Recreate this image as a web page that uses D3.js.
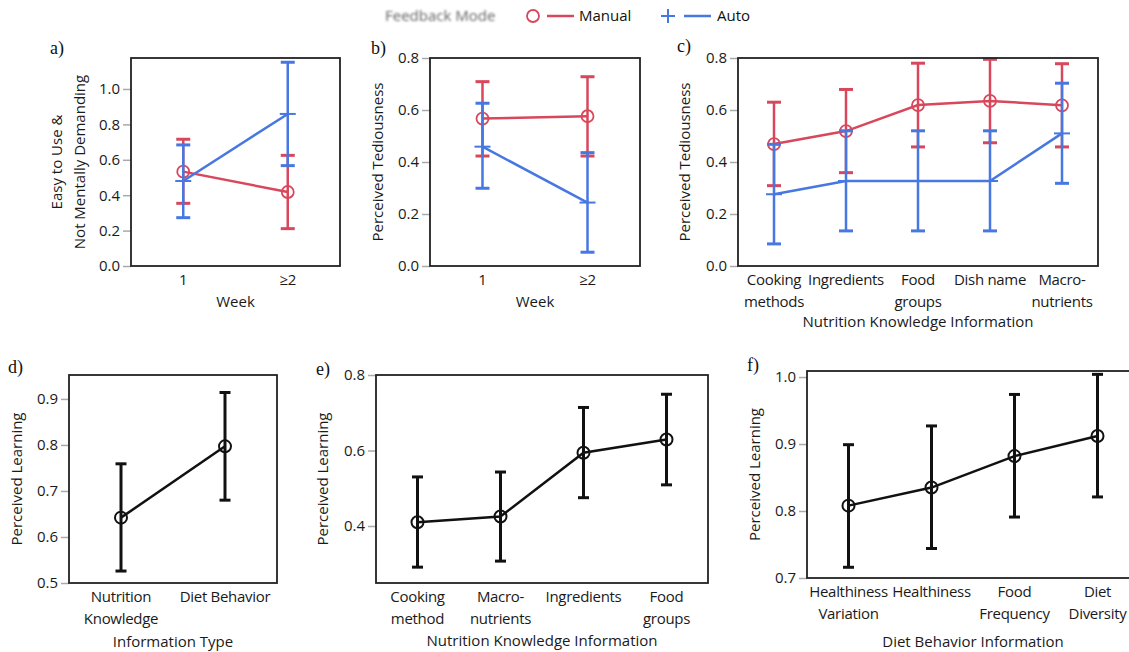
<!DOCTYPE html>
<html>
<head>
<meta charset="utf-8">
<script src="https://cdn.jsdelivr.net/npm/d3@7"></script>
<style>
  body { margin: 0; background: #fff; }
  svg text { font-family: "Open Sans", sans-serif; }
</style>
</head>
<body>
<div class="chart"></div>
<script>
// ---- data ----
const weeks = ['1', '≥2']

// a) Easy to Use & Not Mentally Demanding
const easeManualMean = [0.533, 0.418]
const easeManualLow  = [0.354, 0.211]
const easeManualHigh = [0.716, 0.625]
const easeAutoMean   = [0.480, 0.859]
const easeAutoLow    = [0.273, 0.567]
const easeAutoHigh   = [0.684, 1.151]

// b) Perceived Tediousness by week
const tedManualMean = [0.567, 0.576]
const tedManualLow  = [0.423, 0.423]
const tedManualHigh = [0.709, 0.728]
const tedAutoMean   = [0.459, 0.244]
const tedAutoLow    = [0.299, 0.053]
const tedAutoHigh   = [0.626, 0.436]

// c) Perceived Tediousness by nutrition knowledge information
const nkCatsC = ['Cooking\nmethods', 'Ingredients', 'Food\ngroups', 'Dish name', 'Macro-\nnutrients']
const nkManualMean = [0.469, 0.519, 0.619, 0.635, 0.618]
const nkManualLow  = [0.309, 0.359, 0.458, 0.474, 0.458]
const nkManualHigh = [0.630, 0.679, 0.780, 0.795, 0.778]
const nkAutoMean   = [0.276, 0.327, 0.327, 0.327, 0.510]
const nkAutoLow    = [0.085, 0.135, 0.135, 0.135, 0.318]
const nkAutoHigh   = [0.468, 0.520, 0.520, 0.520, 0.703]

// d) Perceived Learning by information type
const infoTypes = ['Nutrition\nKnowledge', 'Diet Behavior']
const typeMean = [0.642, 0.797]
const typeLow  = [0.526, 0.680]
const typeHigh = [0.759, 0.914]

// e) Perceived Learning by nutrition knowledge information
const nkCatsE = ['Cooking\nmethod', 'Macro-\nnutrients', 'Ingredients', 'Food\ngroups']
const nkLearnMean = [0.410, 0.425, 0.594, 0.629]
const nkLearnLow  = [0.291, 0.307, 0.475, 0.509]
const nkLearnHigh = [0.530, 0.543, 0.714, 0.749]

// f) Perceived Learning by diet behavior information
const dbCats = ['Healthiness\nVariation', 'Healthiness', 'Food\nFrequency', 'Diet\nDiversity']
const dbMean = [0.808, 0.835, 0.882, 0.912]
const dbLow  = [0.716, 0.744, 0.791, 0.821]
const dbHigh = [0.899, 0.927, 0.974, 1.004]

const RED = '#d8475b', BLUE = '#4777e0', BLACK = '#111'

const pack = (mean, low, high) => mean.map((m, i) => ({ i, m, lo: low[i], hi: high[i] }))

const svg = d3.select('.chart').append('svg')
  .attr('width', 1129).attr('height', 652)

// legend
const blur = svg.append('defs').append('filter').attr('id', 'blur')
blur.append('feGaussianBlur').attr('stdDeviation', 0.9)
svg.append('text').attr('x', 385).attr('y', 21).attr('font-size', 15)
  .attr('fill', '#666').attr('filter', 'url(#blur)').text('Feedback Mode')
svg.append('circle').attr('cx', 533).attr('cy', 16).attr('r', 6)
  .attr('fill', 'none').attr('stroke', RED).attr('stroke-width', 1.8)
svg.append('line').attr('x1', 547).attr('x2', 574).attr('y1', 16).attr('y2', 16)
  .attr('stroke', RED).attr('stroke-width', 2.5)
svg.append('text').attr('x', 579).attr('y', 21).attr('font-size', 15).attr('fill', '#111').text('Manual')
svg.append('path').attr('d', 'M661,16H675M668,9V23').attr('stroke', BLUE).attr('stroke-width', 2)
svg.append('line').attr('x1', 684).attr('x2', 711).attr('y1', 16).attr('y2', 16)
  .attr('stroke', BLUE).attr('stroke-width', 2.5)
svg.append('text').attr('x', 717).attr('y', 21).attr('font-size', 15).attr('fill', '#111').text('Auto')

function drawPanel(o) {
  const x = d3.scalePoint().domain(o.cats).range([o.x0, o.x1]).padding(0.5)
  const y = d3.scaleLinear().domain(o.domain).range([o.y1, o.y0])
  const g = svg.append('g')

  // y axis (ticks only, grey)
  const ax = g.append('g').attr('transform', `translate(${o.x0},0)`)
    .call(d3.axisLeft(y).tickValues(o.ticks).tickFormat(d3.format('.1f')).tickSize(8).tickPadding(3))
  ax.select('.domain').remove()
  ax.selectAll('line').attr('stroke', '#aaa').attr('stroke-width', 1.5)
  ax.selectAll('text').attr('font-size', 15).attr('fill', '#1a1a1a')
    .style('font-family', '"Open Sans", sans-serif')

  // category labels
  o.cats.forEach(c => {
    const t = g.append('text').attr('text-anchor', 'middle').attr('font-size', 15)
      .attr('letter-spacing', -0.3).attr('fill', '#1a1a1a')
    c.split('\n').forEach((line, k) => {
      t.append('tspan').attr('x', x(c)).attr('y', o.y1 + 19 + k * 21.5).text(line)
    })
  })

  // axis titles
  g.append('text').attr('x', (o.x0 + o.x1) / 2).attr('y', o.y1 + o.titleDy)
    .attr('text-anchor', 'middle').attr('font-size', 15).attr('fill', '#1a1a1a').text(o.xLabel)
  o.yLabel.forEach((line, k) => {
    g.append('text')
      .attr('transform', `translate(${o.yLabelX[k]},${(o.y0 + o.y1) / 2}) rotate(-90)`)
      .attr('dy', '0.35em').attr('text-anchor', 'middle').attr('font-size', 15).attr('fill', '#1a1a1a')
      .text(line)
  })

  // series
  o.series.forEach(s => {
    const pts = s.data
    const sg = g.append('g')
    sg.append('path').datum(pts)
      .attr('d', d3.line().x(d => x(o.cats[d.i])).y(d => y(d.m)))
      .attr('fill', 'none').attr('stroke', s.color).attr('stroke-width', 2.5)
    sg.selectAll('.bar').data(pts).join('line')
      .attr('x1', d => x(o.cats[d.i])).attr('x2', d => x(o.cats[d.i]))
      .attr('y1', d => y(d.lo)).attr('y2', d => y(d.hi))
      .attr('stroke', s.color).attr('stroke-width', s.barW)
    const caps = pts.flatMap(d => [{ i: d.i, v: d.lo }, { i: d.i, v: d.hi }])
    sg.selectAll('.cap').data(caps).join('line')
      .attr('x1', d => x(o.cats[d.i]) - s.capW / 2).attr('x2', d => x(o.cats[d.i]) + s.capW / 2)
      .attr('y1', d => y(d.v)).attr('y2', d => y(d.v))
      .attr('stroke', s.color).attr('stroke-width', s.capS)
    if (s.marker === 'circle') {
      sg.selectAll('circle').data(pts).join('circle')
        .attr('cx', d => x(o.cats[d.i])).attr('cy', d => y(d.m)).attr('r', s.r)
        .attr('fill', 'none').attr('stroke', s.color).attr('stroke-width', s.ms)
    } else {
      sg.selectAll('.plus').data(pts).join('line')
        .attr('x1', d => x(o.cats[d.i]) - 8).attr('x2', d => x(o.cats[d.i]) + 8)
        .attr('y1', d => y(d.m)).attr('y2', d => y(d.m))
        .attr('stroke', s.color).attr('stroke-width', 2)
    }
  })

  // frame
  g.append('rect').attr('x', o.x0).attr('y', o.y0)
    .attr('width', o.x1 - o.x0).attr('height', o.y1 - o.y0)
    .attr('fill', 'none').attr('stroke', '#222').attr('stroke-width', 1.8)

  // panel tag
  svg.append('text').attr('x', o.tag[1]).attr('y', o.tag[2]).attr('font-size', 18)
    .style('font-family', '"Liberation Serif", serif').attr('fill', '#111').text(o.tag[0])
}

const manualStyle = { color: RED, marker: 'circle', r: 6, ms: 1.8, barW: 2.5, capW: 14, capS: 3 }
const autoStyle = { color: BLUE, marker: 'plus', barW: 2.5, capW: 14, capS: 3 }
const blackStyle = { color: BLACK, marker: 'circle', r: 6, ms: 2, barW: 3, capW: 11, capS: 3 }

drawPanel({
  x0: 131, x1: 340, y0: 58, y1: 266, domain: [0, 1.175], ticks: [0, 0.2, 0.4, 0.6, 0.8, 1.0],
  cats: weeks, xLabel: 'Week', titleDy: 41,
  yLabel: ['Easy to Use &', 'Not Mentally Demanding'], yLabelX: [57, 80], tag: ['a)', 50, 54],
  series: [
    { ...manualStyle, data: pack(easeManualMean, easeManualLow, easeManualHigh) },
    { ...autoStyle, data: pack(easeAutoMean, easeAutoLow, easeAutoHigh) }
  ]
})

drawPanel({
  x0: 430, x1: 640, y0: 58, y1: 266, domain: [0, 0.8], ticks: [0, 0.2, 0.4, 0.6, 0.8],
  cats: weeks, xLabel: 'Week', titleDy: 41,
  yLabel: ['Perceived Tediousness'], yLabelX: [378], tag: ['b)', 371, 54],
  series: [
    { ...manualStyle, data: pack(tedManualMean, tedManualLow, tedManualHigh) },
    { ...autoStyle, data: pack(tedAutoMean, tedAutoLow, tedAutoHigh) }
  ]
})

drawPanel({
  x0: 738, x1: 1098, y0: 58, y1: 266, domain: [0, 0.8], ticks: [0, 0.2, 0.4, 0.6, 0.8],
  cats: nkCatsC, xLabel: 'Nutrition Knowledge Information', titleDy: 61,
  yLabel: ['Perceived Tediousness'], yLabelX: [685], tag: ['c)', 677, 52],
  series: [
    { ...manualStyle, data: pack(nkManualMean, nkManualLow, nkManualHigh) },
    { ...autoStyle, data: pack(nkAutoMean, nkAutoLow, nkAutoHigh) }
  ]
})

drawPanel({
  x0: 69, x1: 277, y0: 375, y1: 583, domain: [0.5, 0.952], ticks: [0.5, 0.6, 0.7, 0.8, 0.9],
  cats: infoTypes, xLabel: 'Information Type', titleDy: 64,
  yLabel: ['Perceived Learning'], yLabelX: [17], tag: ['d)', 8, 373],
  series: [{ ...blackStyle, data: pack(typeMean, typeLow, typeHigh) }]
})

drawPanel({
  x0: 376, x1: 708, y0: 375, y1: 583, domain: [0.249, 0.8], ticks: [0.4, 0.6, 0.8],
  cats: nkCatsE, xLabel: 'Nutrition Knowledge Information', titleDy: 63,
  yLabel: ['Perceived Learning'], yLabelX: [323], tag: ['e)', 316, 375],
  series: [{ ...blackStyle, data: pack(nkLearnMean, nkLearnLow, nkLearnHigh) }]
})

drawPanel({
  x0: 807, x1: 1139, y0: 371, y1: 578, domain: [0.7, 1.009], ticks: [0.7, 0.8, 0.9, 1.0],
  cats: dbCats, xLabel: 'Diet Behavior Information', titleDy: 69,
  yLabel: ['Perceived Learning'], yLabelX: [755], tag: ['f)', 747, 371],
  series: [{ ...blackStyle, data: pack(dbMean, dbLow, dbHigh) }]
})
</script>
</body>
</html>
